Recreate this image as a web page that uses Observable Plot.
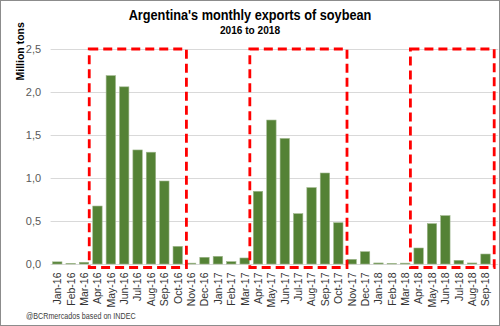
<!DOCTYPE html>
<html><head><meta charset="utf-8">
<script src="https://cdn.jsdelivr.net/npm/d3@7"></script>
<script src="https://cdn.jsdelivr.net/npm/@observablehq/plot@0.6"></script>
<style>
html,body{margin:0;padding:0;background:#fff;}
#chart{position:relative;width:500px;height:326px;box-sizing:border-box;border:1px solid #8c8c8c;overflow:hidden;font-family:"Liberation Sans",Arial,sans-serif;}
#title{position:absolute;left:0;right:0;top:5.5px;text-align:center;font-weight:bold;font-size:14.8px;line-height:17px;color:#000;white-space:nowrap;transform:scaleX(0.86);}
#subtitle{position:absolute;left:0;right:0;top:22.8px;text-align:center;font-weight:bold;font-size:11.5px;line-height:13px;color:#000;transform:scaleX(0.88);}
#plot{position:absolute;left:0;top:39px;}
#caption{position:absolute;left:25px;top:309.5px;font-size:9.2px;line-height:11px;color:#404040;white-space:nowrap;transform:scaleX(0.78);transform-origin:0 0;}
</style>
</head><body>
<div id="chart">
  <div id="title">Argentina's monthly exports of soybean</div>
  <div id="subtitle">2016 to 2018</div>
  <div id="plot"></div>
  <div id="caption">@BCRmercados based on INDEC</div>
</div>
<script>
const months = ["Jan-16","Feb-16","Mar-16","Apr-16","May-16","Jun-16","Jul-16","Aug-16","Sep-16","Oct-16","Nov-16","Dec-16",
  "Jan-17","Feb-17","Mar-17","Apr-17","May-17","Jun-17","Jul-17","Aug-17","Sep-17","Oct-17","Nov-17","Dec-17",
  "Jan-18","Feb-18","Mar-18","Apr-18","May-18","Jun-18","Jul-18","Aug-18","Sep-18"];
const exportsMt = [0.025,0.007,0.02,0.674,2.19,2.06,1.326,1.30,0.965,0.205,0.01,0.078,
  0.089,0.027,0.07,0.845,1.674,1.46,0.585,0.888,1.058,0.48,0.054,0.143,
  0.012,0.005,0.01,0.186,0.469,0.562,0.043,0.012,0.116];
const highlightStart = ["Apr-16","Apr-17","Apr-18"];
const highlightEnd = ["Oct-16","Oct-17","Sep-18"];
const yTicks = [0,0.5,1,1.5,2,2.5];
const yTitle = "Million tons";

const data = months.map((m, i) => ({i, month: m, value: exportsMt[i]}));
const hl = highlightStart.map((s, k) => ({x1: months.indexOf(s) - 0.5, x2: months.indexOf(highlightEnd[k]) + 0.5}));
const fmt = d => d3.format(".1f")(d).replace(".", ",");

const plot = Plot.plot({
  width: 498, height: 270,
  marginLeft: 49.6, marginRight: 6.8, marginTop: 9, marginBottom: 46,
  x: {domain: [-0.5, months.length - 0.5]},
  y: {domain: [0, yTicks[yTicks.length - 1]]},
  style: {fontFamily: "'Liberation Sans', Arial, sans-serif", background: "transparent", overflow: "visible"},
  marks: [
    Plot.ruleY(yTicks, {stroke: "#d9d9d9", strokeWidth: 1, insetRight: -6}),
    Plot.rectY(data, {x1: d => d.i - 0.5, x2: d => d.i + 0.5, y: "value", insetLeft: 2, insetRight: 2, fill: "#548235", stroke: "#9db58a", strokeWidth: 0.6}),
    Plot.rect(hl, {x1: "x1", x2: "x2", y1: () => 0, y2: () => yTicks[yTicks.length - 1], fill: "none", stroke: "#ff0000", strokeWidth: 2.8, strokeDasharray: "9,5", insetLeft: -1.5, insetRight: -2, insetBottom: -3.5}),
    Plot.axisY({ticks: yTicks, tickSize: 0, tickPadding: 10, tickFormat: fmt, label: null, fontSize: 11, color: "#595959"}),
    Plot.axisX({ticks: d3.range(months.length), tickFormat: i => months[i], tickRotate: -90, tickSize: 0, tickPadding: 8, label: null, fontSize: 10.5, color: "#333"}),
    Plot.text([yTitle], {frameAnchor: "top-left", rotate: -90, dx: -35, dy: 31, fontSize: 10.5, fontWeight: 600, fill: "#000"})
  ]
});
document.getElementById("plot").appendChild(plot);
</script>
</body></html>
